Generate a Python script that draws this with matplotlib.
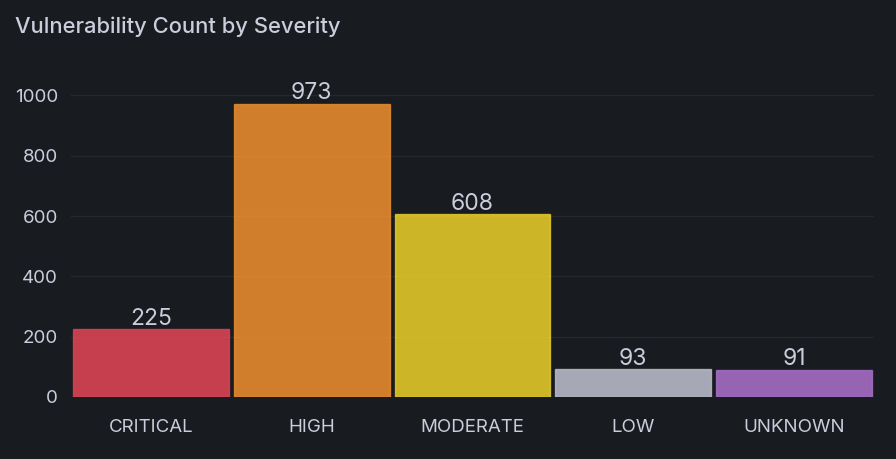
import matplotlib.pyplot as plt
from matplotlib.colors import to_rgba

# data
severities = ["CRITICAL", "HIGH", "MODERATE", "LOW", "UNKNOWN"]
counts = [225, 973, 608, 93, 91]
bar_colors = ["#F2495C", "#FF9830", "#FADE2A", "#CCCCDC", "#B877D9"]
y_ticks = [0, 200, 400, 600, 800, 1000]

BG = "#181b1f"
TEXT = "#ccccdc"


def main():
    plt.rcParams["font.family"] = ["Inter", "DejaVu Sans"]

    fig = plt.figure(figsize=(8.96, 4.59), dpi=100, facecolor=BG)
    ax = fig.add_axes([0.0787, 0.1351, 0.8973, 0.6897], facecolor=BG)

    xs = range(len(severities))
    fills = [to_rgba(c, 0.8) for c in bar_colors]
    edges = [to_rgba(c, 0.7) for c in bar_colors]
    bars = ax.bar(xs, counts, width=0.97, color=fills, edgecolor=edges,
                  linewidth=1, zorder=3)

    for rect, val in zip(bars, counts):
        ax.annotate(str(val), (rect.get_x() + rect.get_width() / 2, rect.get_height()),
                    xytext=(0, 3), textcoords="offset points",
                    ha="center", va="baseline", fontsize=16.5, color=TEXT)

    ax.set_xlim(-0.5, len(severities) - 0.5)
    ax.set_ylim(0, 1050)
    ax.set_xticks(list(xs))
    ax.set_xticklabels(severities)
    ax.set_yticks(y_ticks)

    ax.tick_params(axis="both", length=0, colors=TEXT)
    ax.tick_params(axis="x", pad=16, labelsize=13.5)
    ax.tick_params(axis="y", pad=9, labelsize=13.5)

    ax.grid(axis="y", color="#26282d", linewidth=1, zorder=0)
    ax.grid(axis="x", visible=False)
    for s in ax.spines.values():
        s.set_visible(False)

    fig.text(15 / 896, 1 - 33 / 459, "Vulnerability Count by Severity",
             ha="left", va="baseline", fontsize=15.8, color=TEXT, weight="medium")

    fig.savefig("out.png", dpi=100, facecolor=BG)


if __name__ == "__main__":
    main()
